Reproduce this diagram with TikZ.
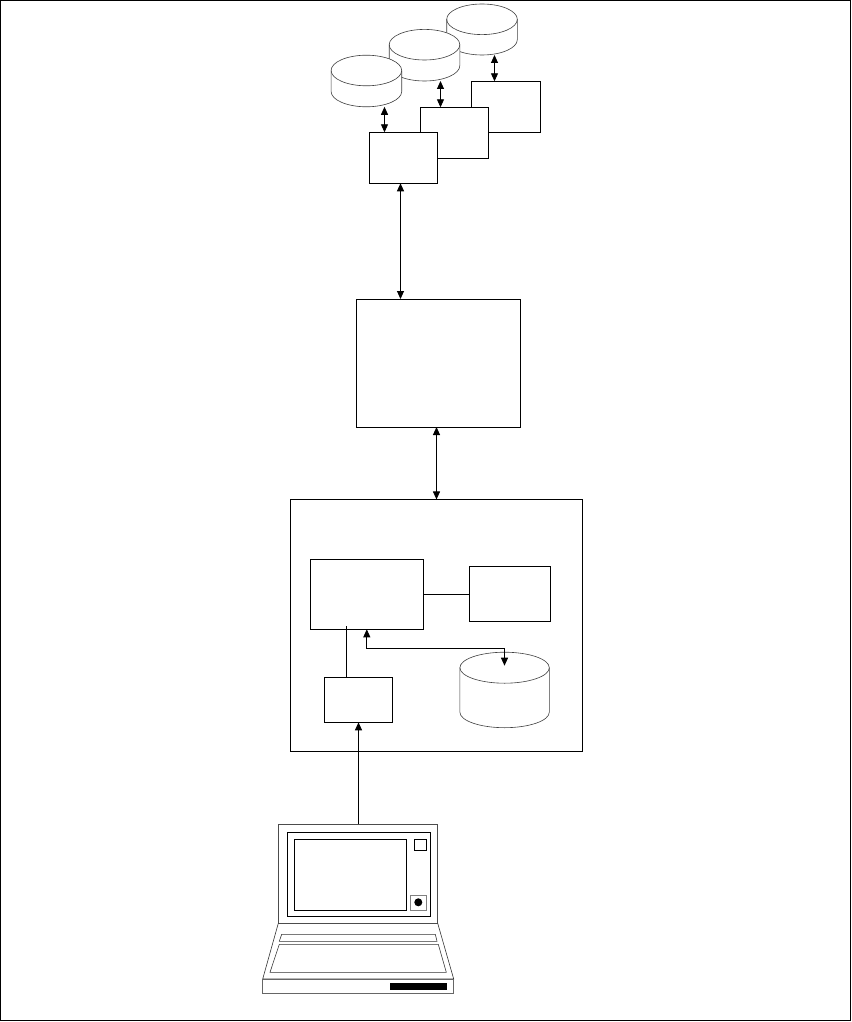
\documentclass[tikz,border=0pt]{standalone}
\usepackage{xcolor}
\usepackage{tikz}
\usetikzlibrary{arrows.meta}
\tikzset{
  boxn/.style={draw,fill=white,line width=0.9pt,inner sep=0pt,outer sep=0pt,minimum width=#1},
  diskl/.style={draw=black!75,fill=white,line width=0.6pt},
  lnk/.style={line width=0.9pt},
  arr/.style={line width=0.9pt,{Triangle[length=8pt,width=7pt]}-{Triangle[length=8pt,width=7pt]}},
  arrone/.style={line width=0.9pt,-{Triangle[length=8pt,width=7pt]}},
  thinl/.style={line width=0.6pt,draw=black!80}
}
% name, centre x, centre y of top ellipse, x radius, y radius, side length
\newcommand{\dbcyl}[6]{
  \node[inner sep=0pt,outer sep=0pt,minimum width=2*#4pt,minimum height=2*#5pt+#6pt] (#1) at (#2,#3+#6/2) {};
  \draw[diskl] (#2-#4,#3) -- (#2-#4,#3+#6)
    .. controls (#2-#4,#3+#6+0.55*#5) and (#2-0.55*#4,#3+#6+#5) .. (#2,#3+#6+#5)
    .. controls (#2+0.55*#4,#3+#6+#5) and (#2+#4,#3+#6+0.55*#5) .. (#2+#4,#3+#6)
    -- (#2+#4,#3)
    .. controls (#2+#4,#3-0.55*#5) and (#2+0.55*#4,#3-#5) .. (#2,#3-#5)
    .. controls (#2-0.55*#4,#3-#5) and (#2-#4,#3-0.55*#5) .. (#2-#4,#3) -- cycle;
  \draw[diskl,fill=none] (#2-#4,#3)
    .. controls (#2-#4,#3+0.55*#5) and (#2-0.55*#4,#3+#5) .. (#2,#3+#5)
    .. controls (#2+0.55*#4,#3+#5) and (#2+#4,#3+0.55*#5) .. (#2+#4,#3);
}
\begin{document}
\begin{tikzpicture}[x=1pt,y=-1pt]
\useasboundingbox (0,0) rectangle (851,1022);
\draw[line width=1.2pt] (0.6,0.6) rectangle (850.2,1020.6);
% disks and their boxes
\dbcyl{cylc}{482}{19.3}{35.3}{15.3}{20.4}
\dbcyl{cylb}{424.5}{44.7}{35.3}{15.3}{21}
\dbcyl{cyla}{366.4}{70.5}{35.3}{15.3}{21}
\node[boxn=69pt,minimum height=51pt] (boxc) at (505.8,106.8) {};
\node[boxn=68pt,minimum height=51pt] (boxb) at (454.3,132.8) {};
\node[boxn=68pt,minimum height=51pt] (boxa) at (403.3,157.8) {};
\draw[arr] ([xshift=18.1pt]cyla.south) -- ([xshift=-18.8pt]boxa.north);
\draw[arr] ([xshift=16pt]cylb.south) -- ([xshift=-13.8pt]boxb.north);
\draw[arr] ([xshift=12.5pt]cylc.south) -- ([xshift=-11.3pt]boxc.north);
% server
\node[boxn=164pt,minimum height=128pt] (srv) at (438.5,363) {};
\draw[arr] ([xshift=-2.8pt]boxa.south) -- ([xshift=-38pt]srv.north);
% client machine
\node[boxn=291.5pt,minimum height=251.5pt] (host) at (436.2,625.2) {};
\draw[arr] ([xshift=-2pt]srv.south) -- ([xshift=0.3pt]host.north);
\node[boxn=113pt,minimum height=70pt] (app) at (366.8,594.3) {};
\node[boxn=81pt,minimum height=55pt] (disp) at (509.8,593.8) {};
\node[boxn=68pt,minimum height=45pt] (inp) at (358.3,699.8) {};
\dbcyl{store}{504.6}{667.7}{44.7}{15.5}{44.5}
\coordinate (apptip) at (346.5,626);
\coordinate (storetip) at (504.5,665.7);
\coordinate (bend) at (366.8,648.5);
\draw[lnk] (app.east) -- (disp.west |- app.east);
\draw[lnk] (inp.north -| apptip) -- (apptip);
\draw[arrone] (bend -| storetip) -- (storetip);
\draw[arrone] (bend -| storetip) -- (bend) -- (app.south);
% laptop
\node[draw=black!70,fill=white,line width=0.6pt,inner sep=0pt,outer sep=0pt,minimum width=159.4pt,minimum height=99pt] (lid) at (358,873.8) {};
\draw[arrone] ([xshift=0.5pt]lid.north) -- ([xshift=0.2pt]inp.south);
\node[boxn=143pt,minimum height=83.7pt] (bezel) at (358.8,874.2) {};
\node[boxn=112pt,minimum height=71pt] (screen) at (350.3,874.8) {};
\node[boxn=12pt,minimum height=10.7pt,line width=0.6pt] (sqkey) at (420.3,844.7) {};
\node[draw=black!50,fill=white,line width=0.6pt,inner sep=0pt,minimum width=16pt,minimum height=14.7pt] (btn) at (418,902.7) {};
\node[circle,fill=black,inner sep=0pt,minimum size=8pt] (dot) at (418.3,902.3) {};
\draw[thinl] (278.3,923.3) -- (262.7,979) -- (453.7,979) -- (437.7,923.3);
\node[draw=black!60,fill=white,line width=0.6pt,inner sep=0pt,outer sep=0pt,minimum width=191pt,minimum height=14.7pt] (base) at (358.2,986.4) {};
\draw[thinl] (279.3,941.3) -- (281.7,934.3) -- (435.3,934.3) -- (437,941.3) -- cycle;
\draw[thinl] (270,972.3) -- (279.3,944.3) -- (438.3,944.3) -- (446.3,972.3) -- cycle;
\node[fill=black,inner sep=0pt,minimum width=57pt,minimum height=7pt] (slot) at (418.2,986.8) {};
\end{tikzpicture}
\end{document}
